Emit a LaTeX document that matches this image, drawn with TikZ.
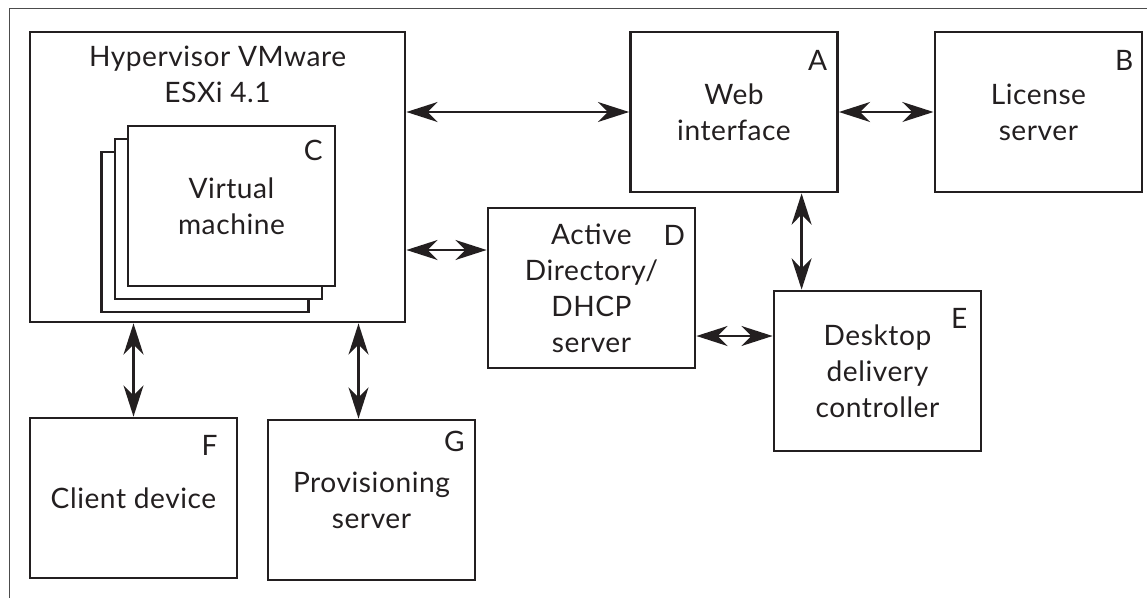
\documentclass[tikz,border=0pt]{standalone}
\usepackage{fontspec}
\setmainfont{Lato}[LetterSpace=2]
\usetikzlibrary{arrows.meta, positioning, calc}
\definecolor{inkline}{HTML}{231F20}

\begin{document}
\begin{tikzpicture}[<->, >={Stealth[length=0.78cm,width=0.5cm,inset=0.25cm]}, line width=1.6pt, inkline, text=inkline,
		block/.style={align=center, draw, fill=white, line width=2pt, minimum width=5.175cm, minimum height=4cm},
		tag/.style={inner sep=0pt}]
			\fontsize{20}{25.6}\selectfont
			\useasboundingbox (0,0) rectangle (28.675,-14.95);
			\draw[-, line width=0.7pt, black!70] (0.225,-14.95) -- (0.225,-0.2) -- (28.675,-0.2);

			% hypervisor with the stacked virtual machines
			\node[block, minimum width=9.375cm, minimum height=7.25cm] at (5.4375,-4.425) (hyp) {};
			\node[align=center] at (5.44,-1.87) (hyptitle) {Hypervisor VMware\\ESXi 4.1};
			\node[block] at (5.125,-5.8)   (vmback) {};
			\node[block] at (5.4625,-5.475) (vmmid)  {};
			\node[block] at (5.7875,-5.15) (vm)     {Virtual\\machine};

			\node[block] at (18.35,-2.8)    (web)    {Web\\interface};
			\node[block] at (25.96,-2.8)    (lic)    {License\\server};
			\node[block] at (14.7875,-7.2)  (ad)     {Active\\Directory/\\DHCP\\server};
			\node[block] at (21.9375,-9.275) (ddc)   {Desktop\\delivery\\controller};
			\node[block] at (3.3375,-12.45) (client) {Client device};
			\node[block] at (9.2875,-12.5)  (prov)   {Provisioning\\server};

			% letters
			\node[tag] at ([xshift=-0.53cm,yshift=-0.75cm]web.north east)    (taga) {A};
			\node[tag] at ([xshift=-0.48cm,yshift=-0.75cm]lic.north east)    (tagb) {B};
			\node[tag] at ([xshift=-0.58cm,yshift=-0.65cm]vm.north east)     (tagc) {C};
			\node[tag] at ([xshift=-0.55cm,yshift=-0.72cm]ad.north east)     (tagd) {D};
			\node[tag] at ([xshift=-0.58cm,yshift=-0.72cm]ddc.north east)    (tage) {E};
			\node[tag] at ([xshift=-0.72cm,yshift=-0.72cm]client.north east) (tagf) {F};
			\node[tag] at ([xshift=-0.55cm,yshift=-0.57cm]prov.north east)   (tagg) {G};

			\coordinate (adport)   at ([yshift=0.95cm]ad.west);
			\coordinate (ddcport)  at ([yshift=0.875cm]ddc.west);
			\coordinate (ddctop)   at ([xshift=0.725cm]ddc.north west);
			\coordinate (provtop)  at ([xshift=-0.325cm]prov.north);

			\path
					(web.west -| hyp.east)		edge	(web.west)
					(web.east)					edge	(lic.west)
					(adport -| hyp.east)		edge	(adport)
					(ddcport -| ad.east)		edge	(ddcport)
					(ddctop |- web.south)		edge	(ddctop)
					(client.north |- hyp.south)	edge	(client.north)
					(provtop |- hyp.south)		edge	(provtop)
					;

		\end{tikzpicture}
\end{document}
